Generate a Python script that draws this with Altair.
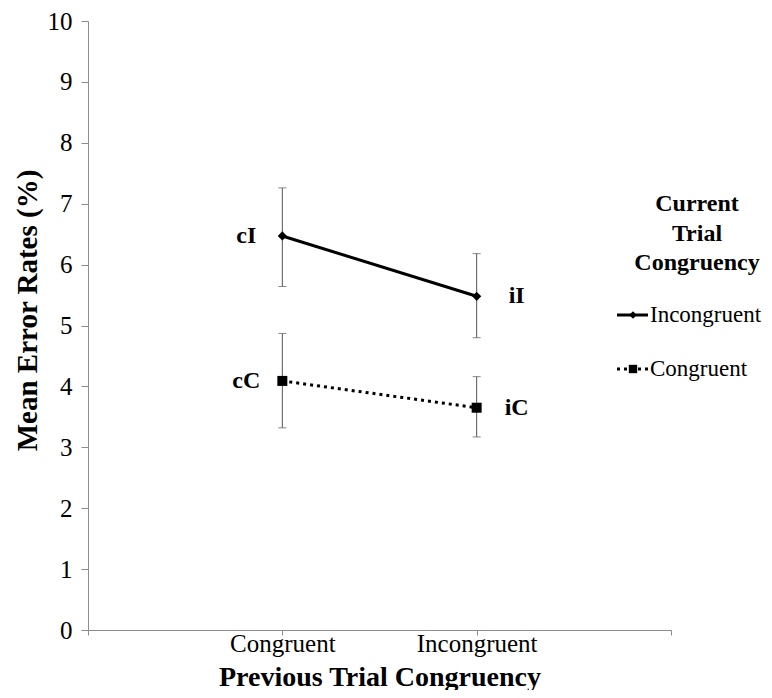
import altair as alt
import pandas as pd

FONT = "Liberation Serif"

# ---- data ----
x_domain = [" ", "Congruent", "Incongruent", "  "]
prev_cats = ["Congruent", "Incongruent"]
series = ["Incongruent", "Congruent"]
inc_means = [6.47, 5.48]
inc_lo = [5.64, 4.80]
inc_hi = [7.26, 6.18]
con_means = [4.09, 3.65]
con_lo = [3.32, 3.17]
con_hi = [4.87, 4.16]
inc_labels = ["cI", "iI"]
con_labels = ["cC", "iC"]
legend_title = "Current\nTrial\nCongruency"

rows = []
for i, p in enumerate(prev_cats):
    rows.append(dict(prev=p, series=series[0], mean=inc_means[i], lo=inc_lo[i], hi=inc_hi[i], lab=inc_labels[i]))
for i, p in enumerate(prev_cats):
    rows.append(dict(prev=p, series=series[1], mean=con_means[i], lo=con_lo[i], hi=con_hi[i], lab=con_labels[i]))
df = pd.DataFrame(rows)

W, H = 583, 609

x_enc = alt.X(
    "prev:N",
    scale=alt.Scale(type="point", domain=x_domain, padding=0),
    axis=alt.Axis(
        title="Previous Trial Congruency",
        labelAngle=0,
        labelFont=FONT, labelFontSize=25, labelColor="black",
        labelBaseline="alphabetic", labelPadding=16,
        tickSize=5, tickColor="#8c8c8c", domainColor="#8c8c8c",
        titleFont=FONT, titleFontSize=28, titleFontWeight="bold", titleColor="black",
        titleX=W / 2, titleY=55, titleBaseline="alphabetic", titleAlign="center",
    ),
)
y_scale = alt.Scale(domain=[0, 10])
y_enc = alt.Y(
    "mean:Q",
    scale=y_scale,
    axis=alt.Axis(
        values=list(range(11)), grid=False, format="d",
        title="Mean Error Rates (%)",
        labelFont=FONT, labelFontSize=25, labelColor="black",
        labelPadding=9,
        tickSize=7, tickColor="#8c8c8c", domainColor="#8c8c8c",
        titleFont=FONT, titleFontSize=29, titleFontWeight="bold", titleColor="black",
        titleX=-61, titleY=289, titleBaseline="middle", titleAlign="center", titleAngle=-90,
    ),
)

base = alt.Chart(df)

err_rule = base.mark_rule(color="#555555", strokeWidth=1).encode(
    x=x_enc, y=alt.Y("lo:Q", scale=y_scale), y2="hi:Q"
)
cap_lo = base.mark_tick(color="#555555", thickness=1, size=8).encode(
    x=x_enc, y=alt.Y("lo:Q", scale=y_scale)
)
cap_hi = base.mark_tick(color="#555555", thickness=1, size=8).encode(
    x=x_enc, y=alt.Y("hi:Q", scale=y_scale)
)

inc = base.transform_filter(alt.datum.series == series[0])
con = base.transform_filter(alt.datum.series == series[1])

inc_line = inc.mark_line(color="black", strokeWidth=3).encode(x=x_enc, y=y_enc)
con_line = con.mark_line(color="black", strokeWidth=3, strokeDash=[3, 4]).encode(x=x_enc, y=y_enc)
inc_pts = inc.mark_point(shape="diamond", filled=True, color="black", size=85, opacity=1).encode(x=x_enc, y=y_enc)
con_pts = con.mark_point(shape="square", filled=True, color="black", size=100, opacity=1).encode(x=x_enc, y=y_enc)

lab_left = base.transform_filter(alt.datum.prev == prev_cats[0]).mark_text(
    font=FONT, fontSize=24, fontWeight="bold", color="black", dx=-36, align="center", baseline="middle"
).encode(x=x_enc, y=y_enc, text="lab:N")
lab_right = base.transform_filter(alt.datum.prev == prev_cats[1]).mark_text(
    font=FONT, fontSize=24, fontWeight="bold", color="black", dx=40, align="center", baseline="middle"
).encode(x=x_enc, y=y_enc, text="lab:N")

# ---- manual legend ----
leg_title = alt.Chart(pd.DataFrame({"t": [legend_title]})).mark_text(
    font=FONT, fontSize=24, fontWeight="bold", color="black", align="center",
    baseline="middle", lineBreak="\n", lineHeight=29.5
).encode(x=alt.value(609), y=alt.value(183), text="t:N")

leg_inc_df = pd.DataFrame({"s": [series[0]]})
leg_con_df = pd.DataFrame({"s": [series[1]]})
leg_inc_line = alt.Chart(leg_inc_df).mark_rule(color="black", strokeWidth=3).encode(
    x=alt.value(529), x2=alt.value(560), y=alt.value(294)
)
leg_inc_pt = alt.Chart(leg_inc_df).mark_point(shape="diamond", filled=True, color="black", size=60, opacity=1).encode(
    x=alt.value(545), y=alt.value(294)
)
leg_inc_txt = alt.Chart(leg_inc_df).mark_text(
    font=FONT, fontSize=23, color="black", align="left", baseline="middle"
).encode(x=alt.value(562), y=alt.value(294), text="s:N")
leg_con_line = alt.Chart(leg_con_df).mark_rule(color="black", strokeWidth=3, strokeDash=[3, 4]).encode(
    x=alt.value(529), x2=alt.value(560), y=alt.value(348)
)
leg_con_pt = alt.Chart(leg_con_df).mark_point(shape="square", filled=True, color="black", size=70, opacity=1).encode(
    x=alt.value(545), y=alt.value(348)
)
leg_con_txt = alt.Chart(leg_con_df).mark_text(
    font=FONT, fontSize=23, color="black", align="left", baseline="middle"
).encode(x=alt.value(562), y=alt.value(348), text="s:N")

chart = alt.layer(
    err_rule, cap_lo, cap_hi, inc_line, con_line, inc_pts, con_pts, lab_left, lab_right,
    leg_title, leg_inc_line, leg_inc_pt, leg_inc_txt, leg_con_line, leg_con_pt, leg_con_txt,
).properties(
    width=W, height=H,
    autosize=alt.AutoSizeParams(type="none"),
    padding={"left": 80, "top": 13, "right": 93, "bottom": 60},
).configure_view(stroke=None).configure_axis(domainWidth=1, tickWidth=1)

chart.save("out.html", embed_options={"renderer": "svg", "actions": False})
